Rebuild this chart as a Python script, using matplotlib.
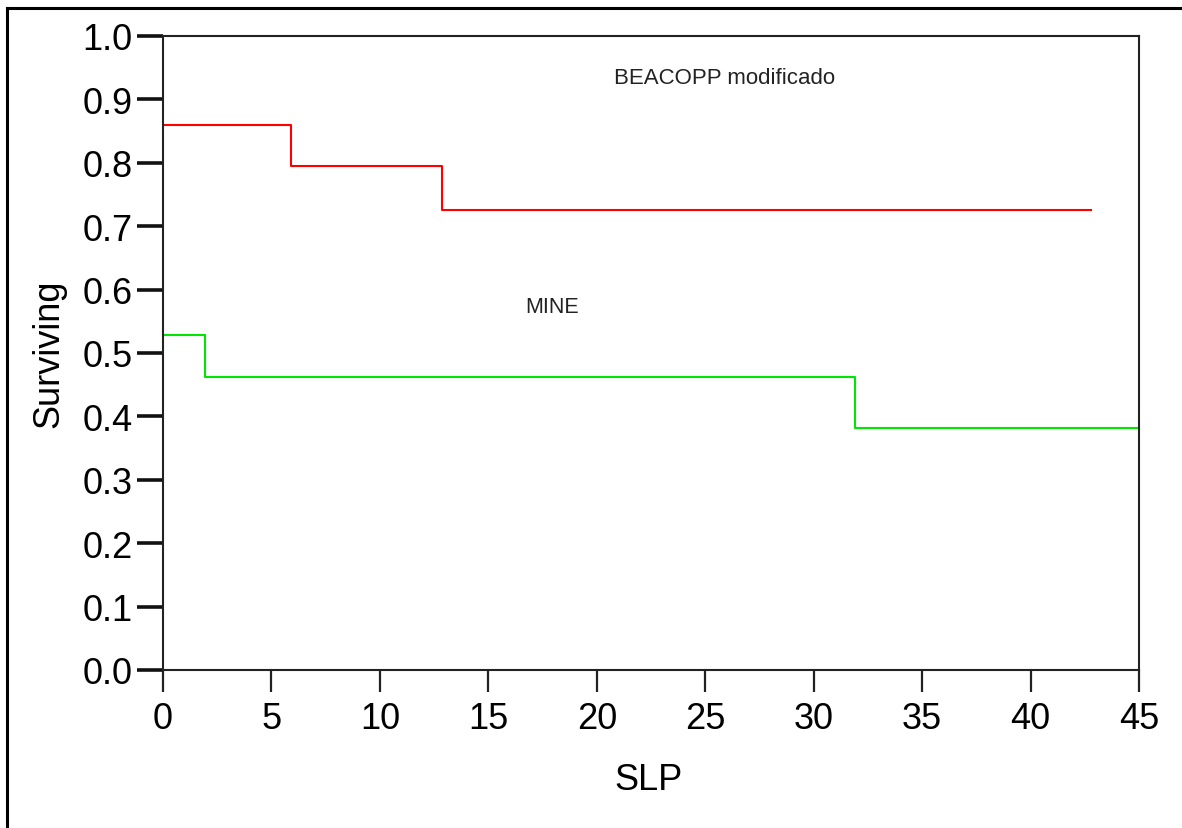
import matplotlib
matplotlib.use("Agg")
import matplotlib.pyplot as plt
from matplotlib.lines import Line2D

# Kaplan-Meier style survival steps
beacopp_t = [0, 5.9, 12.85, 42.8]
beacopp_s = [0.86, 0.795, 0.725, 0.725]
mine_t = [0, 1.95, 31.9, 45]
mine_s = [0.528, 0.462, 0.381, 0.381]

x_ticks = [0, 5, 10, 15, 20, 25, 30, 35, 40, 45]
y_ticks = [0.0, 0.1, 0.2, 0.3, 0.4, 0.5, 0.6, 0.7, 0.8, 0.9, 1.0]

plt.rcParams['font.family'] = ['Liberation Sans', 'DejaVu Sans']

fig = plt.figure(figsize=(11.82, 8.29), dpi=100)
ax = fig.add_axes([163 / 1182, 1 - 671 / 829, 976 / 1182, 634 / 829])

ax.step(beacopp_t, beacopp_s, where='post', color='#ff0000', lw=1.5)
ax.step(mine_t, mine_s, where='post', color='#00e600', lw=1.5, clip_on=False)

ax.text(25.9, 0.934, "BEACOPP modificado", ha='center', va='center', fontsize=16, color='#222222')
ax.text(17.95, 0.573, "MINE", ha='center', va='center', fontsize=15.5, color='#222222')

ax.set_xlim(0, 45)
ax.set_ylim(0, 1.0)
ax.set_xticks(x_ticks)
ax.set_yticks(y_ticks)
ax.set_yticklabels(["%.1f" % v for v in y_ticks])

for s in ax.spines.values():
    s.set_color('#222222')
    s.set_linewidth(1.5)

ax.tick_params(axis='y', direction='out', length=19, width=2.6, pad=3, labelsize=26, color='#111111')
ax.tick_params(axis='x', direction='out', length=16, width=1.6, pad=6, labelsize=26, color='#222222')

ax.set_xlabel("SLP", fontsize=26)
ax.set_ylabel("Surviving", fontsize=26)
ax.xaxis.set_label_coords(0.497, -0.145)
ax.yaxis.set_label_coords(-0.0994, 0.5)

# partial frame round the picture (left and top edges)
fig.add_artist(Line2D([7 / 1182, 7 / 1182], [0, 1 - 9 / 829], color='black', lw=2.2, transform=fig.transFigure))
fig.add_artist(Line2D([7 / 1182, 1], [1 - 9 / 829, 1 - 9 / 829], color='black', lw=2.2, transform=fig.transFigure))

fig.savefig("out.png", dpi=100)
